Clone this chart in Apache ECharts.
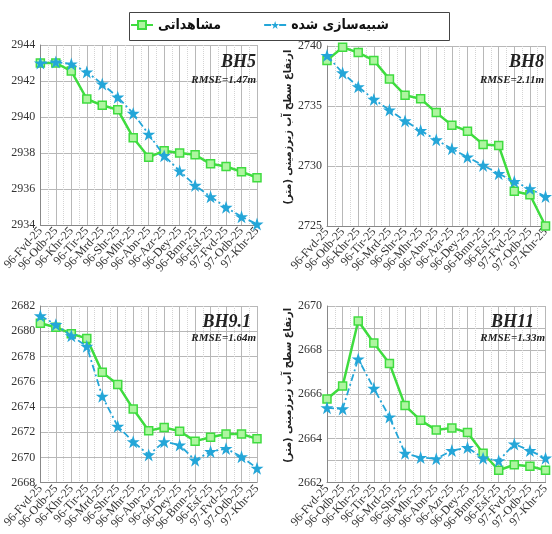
<!DOCTYPE html>
<html><head><meta charset="utf-8">
<script src="https://cdn.jsdelivr.net/npm/echarts@6/dist/echarts.min.js"></script>
<style>html,body{margin:0;padding:0;background:#fff}#c{width:552px;height:534px}</style>
</head><body><div id="c"></div>
<script>
const categories = ['96-Fvd-25','96-Odb-25','96-Khr-25','96-Tir-25','96-Mrd-25','96-Shr-25','96-Mhr-25','96-Abn-25','96-Azr-25','96-Dey-25','96-Bmn-25','96-Esf-25','97-Fvd-25','97-Odb-25','97-Khr-25'];
const seriesNames = ['مشاهداتی','شبیه‌سازی شده'];
const panelNames = ['BH5','BH8','BH9.1','BH11'];
const rmseLabels = ['RMSE=1.47m','RMSE=2.11m','RMSE=1.64m','RMSE=1.33m'];
const yAxisTitle = 'ارتفاع سطح آب زیرزمینی (متر)';

const bh5Obs = [2943.0,2943.0,2942.55,2941.0,2940.65,2940.4,2938.85,2937.76,2938.13,2938.0,2937.9,2937.4,2937.25,2936.96,2936.63];
const bh5Sim = [2943.0,2943.05,2942.94,2942.5,2941.83,2941.1,2940.2,2939.04,2937.85,2937.0,2936.2,2935.57,2934.98,2934.46,2934.05];
const bh8Obs = [2738.8,2739.9,2739.45,2738.8,2737.24,2735.9,2735.6,2734.45,2733.4,2732.9,2731.8,2731.7,2727.9,2727.6,2725.0];
const bh8Sim = [2739.2,2737.76,2736.6,2735.55,2734.67,2733.76,2732.95,2732.18,2731.43,2730.75,2730.05,2729.36,2728.7,2728.1,2727.45];
const bh91Obs = [2680.63,2680.32,2679.8,2679.43,2676.74,2675.77,2673.83,2672.12,2672.38,2672.07,2671.29,2671.6,2671.86,2671.86,2671.47];
const bh91Sim = [2681.22,2680.52,2679.64,2678.8,2674.84,2672.46,2671.24,2670.2,2671.24,2670.98,2669.78,2670.46,2670.7,2670.05,2669.14];
const bh11Obs = [2665.79,2666.38,2669.32,2668.32,2667.4,2665.49,2664.82,2664.38,2664.48,2664.27,2663.33,2662.56,2662.81,2662.74,2662.56];
const bh11Sim = [2665.39,2665.34,2667.6,2666.27,2664.97,2663.33,2663.14,2663.08,2663.45,2663.59,2663.11,2662.99,2663.75,2663.45,2663.11];

const yMins = [2934,2725,2668,2662];
const yMaxs = [2944,2740,2682,2670];
const yIntervals = [2,5,2,1];
const yLabelSteps = [2,5,2,2];

const obsData = [bh5Obs,bh8Obs,bh91Obs,bh11Obs];
const simData = [bh5Sim,bh8Sim,bh91Sim,bh11Sim];

const GREEN = '#3fdc3f', BLUE = '#24a6d8';
const serif = 'Liberation Serif';
const STAR = 'path://M50,0 L61.8,35.1 L98.9,35.1 L68.9,57.3 L80.3,92.7 L50,70.8 L19.7,92.7 L31.1,57.3 L1.1,35.1 L38.2,35.1 Z';

const grids = [
  {left:38, top:45, width:219, height:180},
  {left:327, top:46, width:219, height:180},
  {left:38, top:306, width:219, height:179},
  {left:327, top:306, width:219, height:179}
];
const titleRight = [296, 8, 301, 18];
const titleTop = [53, 53, 313, 313];
const rmseRight = [296, 8, 296, 7];
const rmseTop = [75, 75, 333, 333];

const xAxes = [], yAxes = [], series = [], titles = [];
grids.forEach((g,i)=>{
  xAxes.push({
    type:'category', gridIndex:i, data:categories, boundaryGap:false,
    axisLine:{lineStyle:{color:'#888'}}, axisTick:{show:false},
    axisLabel:{interval:0, rotate:48, fontFamily:serif, fontSize:12, color:'#333', margin:4},
    splitLine:{show:true, lineStyle:{color:'#b8b8b8', width:1}}
  });
  xAxes.push({
    type:'value', gridIndex:i, min:0, max:categories.length-1, interval:1,
    axisLine:{show:false}, axisTick:{show:false}, axisLabel:{show:false},
    splitLine:{show:false},
    minorTick:{show:false, splitNumber:2},
    minorSplitLine:{show:true, lineStyle:{color:'#d4d4d4', type:'dotted', width:1}}
  });
  const step = yLabelSteps[i], mn = yMins[i];
  const ya = {
    type:'value', gridIndex:i, min:yMins[i], max:yMaxs[i], interval:yIntervals[i],
    axisLine:{show:true, lineStyle:{color:'#888'}}, axisTick:{show:false},
    axisLabel:{fontFamily:serif, fontSize:12, color:'#333', margin:5,
      formatter:(v)=> (Math.round(v-mn)%step===0 ? String(v) : '')},
    splitLine:{show:true, lineStyle:{color:'#b8b8b8', width:1}}
  };
  if (i===1 || i===3) {
    ya.name = yAxisTitle; ya.nameLocation='middle'; ya.nameRotate=90; ya.nameGap=26;
    ya.nameTextStyle = {fontFamily:'DejaVu Sans Condensed, DejaVu Sans', fontSize:11, fontWeight:'bold', color:'#222', padding:[0,0,0,18]};
  }
  yAxes.push(ya);
  series.push({
    name:seriesNames[0], type:'line', xAxisIndex:i*2, yAxisIndex:i, data:obsData[i],
    symbol:'rect', symbolSize:8, showAllSymbol:true,
    lineStyle:{color:GREEN, width:2.5},
    itemStyle:{color:'#aef5a0', borderColor:GREEN, borderWidth:1.5},
    z:3
  });
  series.push({
    name:seriesNames[1], type:'line', xAxisIndex:i*2, yAxisIndex:i, data:simData[i],
    symbol:STAR, symbolSize:13, showAllSymbol:true,
    lineStyle:{color:BLUE, width:1.8, type:[7,3,2,3]},
    itemStyle:{color:BLUE},
    z:4
  });
  titles.push({text:panelNames[i], right:titleRight[i], top:titleTop[i], padding:0,
    textStyle:{fontFamily:serif, fontSize:18, fontStyle:'italic', fontWeight:'bold', color:'#222'}});
  titles.push({text:rmseLabels[i], right:rmseRight[i], top:rmseTop[i], padding:0,
    textStyle:{fontFamily:serif, fontSize:11, fontStyle:'italic', fontWeight:'bold', color:'#222'}});
});

const chart = echarts.init(document.getElementById('c'), null, {renderer:'canvas'});
chart.setOption({
  animation:false,
  backgroundColor:'#fff',
  title:titles,
  graphic:[{type:'rect', left:127, top:10, shape:{width:320, height:28},
    style:{fill:'none', stroke:'#444', lineWidth:1}, z:-1}],
  legend:{
    data:seriesNames,
    left:130, top:16, itemWidth:22, itemHeight:10, itemGap:42,
    padding:[0,0,0,0],
    textStyle:{fontFamily:'DejaVu Sans Condensed, DejaVu Sans', fontSize:14, fontWeight:'bold', color:'#111', lineHeight:18}
  },
  grid:grids,
  xAxis:xAxes,
  yAxis:yAxes,
  series:series
});
</script></body></html>
